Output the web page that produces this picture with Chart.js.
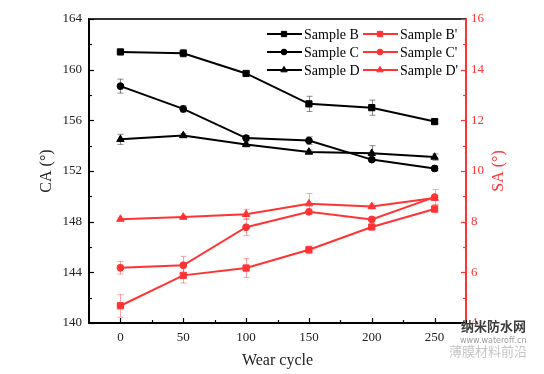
<!DOCTYPE html>
<html>
<head>
<meta charset="utf-8">
<script src="https://cdn.jsdelivr.net/npm/chart.js@4.4.0/dist/chart.umd.min.js"></script>
<style>
  html, body { margin: 0; padding: 0; background: #ffffff; }
  #wrap { width: 544px; height: 374px; position: relative; }
</style>
</head>
<body>
<div id="wrap"><canvas id="c" width="544" height="374"></canvas></div>
<script>
// ---- data ----
const wearCycles = [0, 50, 100, 150, 200, 250];
const xTickLabels = ['0', '50', '100', '150', '200', '250'];
const caTicks = [140, 144, 148, 152, 156, 160, 164];
const saTicks = [4, 6, 8, 10, 12, 14, 16];

const caSampleB = [161.4, 161.3, 159.7, 157.3, 157.0, 155.9];
const caSampleC = [158.7, 156.9, 154.6, 154.4, 152.9, 152.2];
const caSampleD = [154.5, 154.8, 154.1, 153.5, 153.4, 153.1];
const caErrB = [0.1, 0.3, 0.1, 0.6, 0.6, 0.15];
const caErrC = [0.55, 0.25, 0.2, 0.3, 0.15, 0.2];
const caErrD = [0.4, 0.15, 0.2, 0.15, 0.6, 0.25];

const saSampleB = [4.68, 5.88, 6.17, 6.89, 7.79, 8.5];
const saSampleC = [6.18, 6.28, 7.78, 8.39, 8.09, 8.97];
const saSampleD = [8.1, 8.18, 8.29, 8.71, 8.6, 8.93];
const saErrB = [0.45, 0.3, 0.37, 0.15, 0.1, 0.15];
const saErrC = [0.25, 0.35, 0.33, 0.1, 0.1, 0.3];
const saErrD = [0.05, 0.05, 0.2, 0.4, 0.1, 0.1];

const seriesLabels = ['Sample B', 'Sample C', 'Sample D', "Sample B'", "Sample C'", "Sample D'"];

// ---- styles ----
const BLACK = '#000000';
const RED = '#ff3333';
const SERIF = '"Liberation Serif", "DejaVu Serif", serif';

function pts(vals) { return wearCycles.map((x, i) => ({ x: x, y: vals[i] })); }

function ds(label, vals, errs, color, style, axis, radius) {
  return {
    label: label,
    data: pts(vals),
    errors: errs,
    yAxisID: axis,
    borderColor: color,
    backgroundColor: color,
    pointBackgroundColor: color,
    pointBorderColor: color,
    pointBorderWidth: 1,
    pointStyle: style,
    pointRadius: radius,
    pointHoverRadius: radius,
    borderWidth: 2,
    tension: 0,
    errColor: color === BLACK ? 'rgba(0,0,0,0.45)' : 'rgba(255,51,51,0.45)'
  };
}

const datasets = [
  ds(seriesLabels[0], caSampleB, caErrB, BLACK, 'rect', 'y', 4.4),
  ds(seriesLabels[1], caSampleC, caErrC, BLACK, 'circle', 'y', 3.4),
  ds(seriesLabels[2], caSampleD, caErrD, BLACK, 'triangle', 'y', 4.3),
  ds(seriesLabels[3], saSampleB, saErrB, RED, 'rect', 'y1', 4.4),
  ds(seriesLabels[4], saSampleC, saErrC, RED, 'circle', 'y1', 3.4),
  ds(seriesLabels[5], saSampleD, saErrD, RED, 'triangle', 'y1', 4.3)
];

// error bars drawn through the scales
const errorBarPlugin = {
  id: 'errorBars',
  beforeDatasetsDraw(chart) {
    const ctx = chart.ctx;
    const xs = chart.scales.x;
    chart.data.datasets.forEach((d) => {
      const ys = chart.scales[d.yAxisID];
      ctx.save();
      ctx.strokeStyle = d.errColor;
      ctx.lineWidth = 1;
      d.data.forEach((p, i) => {
        const e = d.errors[i];
        const px = Math.round(xs.getPixelForValue(p.x)) + 0.5;
        const yt = ys.getPixelForValue(p.y + e);
        const yb = ys.getPixelForValue(p.y - e);
        ctx.beginPath();
        ctx.moveTo(px, yt); ctx.lineTo(px, yb);
        ctx.moveTo(px - 3, yt); ctx.lineTo(px + 3, yt);
        ctx.moveTo(px - 3, yb); ctx.lineTo(px + 3, yb);
        ctx.stroke();
      });
      ctx.restore();
    });
  }
};

// inside ticks, frame, right title, legend, watermark
const framePlugin = {
  id: 'frame',
  afterDraw(chart) {
    const ctx = chart.ctx;
    const a = chart.chartArea;
    const xs = chart.scales.x, yl = chart.scales.y, yr = chart.scales.y1;
    ctx.save();
    // top border
    ctx.strokeStyle = '#333333';
    ctx.lineWidth = 2;
    ctx.beginPath(); ctx.moveTo(a.left, a.top); ctx.lineTo(a.right, a.top); ctx.stroke();

    // left ticks (inside)
    ctx.lineWidth = 1.2;
    ctx.strokeStyle = BLACK;
    for (let v = caTicks[0]; v <= caTicks[caTicks.length - 1]; v += 2) {
      const major = caTicks.includes(v);
      const y = Math.round(yl.getPixelForValue(v)) + 0.5;
      ctx.beginPath(); ctx.moveTo(a.left, y); ctx.lineTo(a.left + (major ? 5 : 3), y); ctx.stroke();
    }
    // bottom ticks (inside)
    for (let v = -25; v <= 275; v += 25) {
      const major = wearCycles.includes(v);
      const x = Math.round(xs.getPixelForValue(v)) + 0.5;
      ctx.beginPath(); ctx.moveTo(x, a.bottom); ctx.lineTo(x, a.bottom - (major ? 5 : 3)); ctx.stroke();
    }
    // right ticks (inside)
    ctx.strokeStyle = RED;
    for (let v = saTicks[0]; v <= saTicks[saTicks.length - 1]; v += 1) {
      const major = saTicks.includes(v);
      const y = Math.round(yr.getPixelForValue(v)) + 0.5;
      ctx.beginPath(); ctx.moveTo(a.right, y); ctx.lineTo(a.right - (major ? 5 : 3), y); ctx.stroke();
    }

    // right title, reading bottom to top
    ctx.save();
    ctx.translate(499, (a.top + a.bottom) / 2);
    ctx.rotate(-Math.PI / 2);
    ctx.fillStyle = RED;
    ctx.font = '16px ' + SERIF;
    ctx.textAlign = 'center';
    ctx.textBaseline = 'middle';
    ctx.fillText('SA (°)', 0, 0);
    ctx.restore();

    // legend (2 columns x 3 rows)
    const rowsY = [34, 52, 70];
    const colX = [267, 363];
    ctx.font = '14px ' + SERIF;
    ctx.textBaseline = 'middle';
    ctx.textAlign = 'left';
    chart.data.datasets.forEach((d, i) => {
      const col = i < 3 ? 0 : 1;
      const row = i % 3;
      const x0 = colX[col], y0 = rowsY[row];
      ctx.strokeStyle = d.borderColor;
      ctx.fillStyle = d.borderColor;
      ctx.lineWidth = 2;
      ctx.beginPath(); ctx.moveTo(x0, y0); ctx.lineTo(x0 + 35, y0); ctx.stroke();
      ctx.lineWidth = 1;
      Chart.helpers.drawPoint(ctx, { pointStyle: d.pointStyle, radius: d.pointRadius * 0.85, borderWidth: 1, rotation: 0 }, x0 + 17, y0);
      ctx.fillStyle = BLACK;
      ctx.fillText(d.label, x0 + 37, y0 + 1);
    });

    // watermark
    ctx.textAlign = 'left';
    ctx.fillStyle = 'rgba(40,40,40,0.9)';
    ctx.font = 'bold 13px "Noto Sans CJK SC"';
    ctx.fillText('纳米防水网', 461, 326);
    ctx.fillStyle = 'rgba(90,90,90,0.6)';
    ctx.font = '8px "DejaVu Sans"';
    ctx.fillText('www.wateroff.cn', 460, 341);
    ctx.fillStyle = 'rgba(150,150,150,0.55)';
    ctx.font = '13px "Noto Sans CJK SC"';
    ctx.fillText('薄膜材料前沿', 449, 351);
    ctx.restore();
  }
};

new Chart(document.getElementById('c'), {
  type: 'line',
  data: { datasets: datasets },
  plugins: [errorBarPlugin, framePlugin],
  options: {
    responsive: false,
    animation: false,
    devicePixelRatio: 1,
    layout: { padding: { top: 19, left: 0, right: 0, bottom: 0 } },
    plugins: { legend: { display: false }, tooltip: { enabled: false } },
    elements: { line: { borderWidth: 2 } },
    scales: {
      x: {
        type: 'linear',
        min: -25, max: 275,
        afterBuildTicks: (s) => { s.ticks = wearCycles.map(v => ({ value: v })); },
        afterFit: (s) => { s.height = 51; },
        grid: { display: false, drawTicks: false },
        border: { display: true, color: BLACK, width: 2 },
        ticks: {
          padding: 7,
          color: '#222',
          font: { family: SERIF, size: 13 },
          callback: (v) => xTickLabels[wearCycles.indexOf(v)] ?? ''
        },
        title: { display: true, text: 'Wear cycle', color: '#222', font: { family: SERIF, size: 16 }, padding: { top: 0, bottom: 4 } }
      },
      y: {
        type: 'linear',
        position: 'left',
        min: 140, max: 164,
        afterBuildTicks: (s) => { s.ticks = caTicks.map(v => ({ value: v })); },
        afterFit: (s) => { s.width = 89; },
        grid: { display: false, drawTicks: false },
        border: { display: true, color: BLACK, width: 2 },
        ticks: { padding: 7, color: '#222', font: { family: SERIF, size: 13 } },
        title: { display: true, text: 'CA (°)', color: '#222', font: { family: SERIF, size: 16 }, padding: { top: 37, bottom: 0 } }
      },
      y1: {
        type: 'linear',
        position: 'right',
        min: 4, max: 16,
        afterBuildTicks: (s) => { s.ticks = saTicks.map(v => ({ value: v })); },
        afterFit: (s) => { s.width = 78; },
        grid: { display: false, drawTicks: false },
        border: { display: true, color: RED, width: 2 },
        ticks: { padding: 5, color: RED, font: { family: SERIF, size: 13 } }
      }
    }
  }
});
</script>
</body>
</html>
